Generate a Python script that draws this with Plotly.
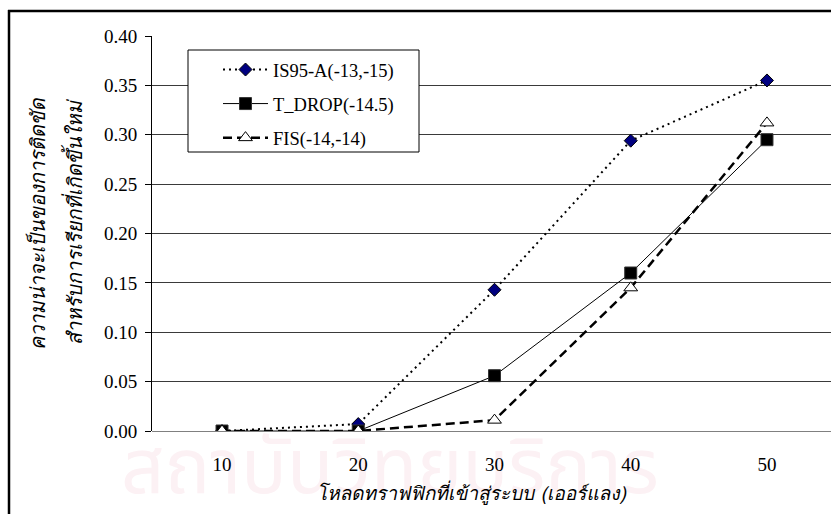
import plotly.graph_objects as go

# Offered traffic load (Erlang) and new-call blocking probabilities
load = [10, 20, 30, 40, 50]
is95a = [0.000, 0.007, 0.143, 0.294, 0.355]
t_drop = [0.000, 0.000, 0.056, 0.160, 0.295]
fis = [0.000, 0.000, 0.011, 0.145, 0.312]
y_ticks = [0.00, 0.05, 0.10, 0.15, 0.20, 0.25, 0.30, 0.35, 0.40]
y_tick_text = [f"{v:.2f}" for v in y_ticks]

SERIF = "Liberation Serif"
THAI = "Loma"
THAI_MARK = "Noto Sans Thai"

fig = go.Figure()

fig.add_trace(go.Scatter(
    x=load, y=is95a, name="IS95-A(-13,-15)", mode="lines+markers", legendgroup="a",
    line=dict(color="black", width=2, dash="2px,4px"),
    marker=dict(symbol="diamond", size=10, color="#000080",
                line=dict(color="black", width=1)),
))
fig.add_trace(go.Scatter(
    x=load, y=t_drop, name="T_DROP(-14.5)", mode="lines+markers", legendgroup="b",
    line=dict(color="black", width=1),
    marker=dict(symbol="square", size=12, color="black",
                line=dict(color="#333", width=1)),
))
fig.add_trace(go.Scatter(
    x=load, y=fis, name="FIS(-14,-14)", mode="lines+markers", legendgroup="c",
    line=dict(color="black", width=2.5, dash="9px,5px"),
    marker=dict(symbol="triangle-up", size=12, color="white",
                line=dict(color="black", width=1)),
))

L, T, B, H, W = 152, 36, 83, 514, 831
plot_h = H - T - B
plot_w = W - L


def px(x):
    return (x - L) / plot_w


def py(y):
    return (431 - y) / plot_h


fig.update_layout(
    width=W, height=H,
    margin=dict(l=L, r=0, t=T, b=B, pad=0),
    paper_bgcolor="white", plot_bgcolor="rgba(0,0,0,0)",
    font=dict(family=SERIF, size=19, color="black"),
    showlegend=True,
    legend=dict(
        x=px(218), y=py(51),
        xanchor="left", yanchor="top",
        bgcolor="rgba(0,0,0,0)", borderwidth=0,
        font=dict(family=SERIF, size=18.5, color="black"),
        itemwidth=45, tracegroupgap=7,
    ),
    xaxis=dict(
        range=[4.86, 54.7], tickvals=load, ticktext=[str(v) for v in load],
        showgrid=False, zeroline=False, showline=False, ticks="",
        tickfont=dict(family=SERIF, size=19), ticklabelstandoff=20,
    ),
    yaxis=dict(
        range=[0, 0.40], tickvals=y_ticks, ticktext=y_tick_text,
        showgrid=True, gridcolor="#3a3a3a", gridwidth=1,
        zeroline=True, zerolinecolor="#808080", zerolinewidth=1,
        showline=True, linecolor="black", linewidth=1,
        ticks="outside", ticklen=6, tickcolor="black",
        tickfont=dict(family=SERIF, size=19), ticklabelstandoff=4,
    ),
)

# Faint institutional watermark behind the chart
fig.add_shape(
    type="rect", xref="paper", yref="paper",
    x0=px(30), x1=px(750), y0=py(510), y1=py(438),
    line=dict(width=0), fillcolor="rgba(0,0,0,0)", layer="below",
    label=dict(text="สถาบันวิทยบริการ", textposition="middle center",
               font=dict(family=THAI_MARK, size=76, color="#fcf1f4")),
)

# Legend frame (white box over the gridlines)
fig.add_shape(
    type="rect", xref="paper", yref="paper",
    x0=px(188), x1=px(419), y0=py(152), y1=py(50),
    line=dict(color="black", width=1), fillcolor="white", layer="above",
)

# Outer chart frame: top and left edges
fig.add_shape(
    type="line", xref="paper", yref="paper",
    x0=px(8), x1=px(W), y0=py(11), y1=py(11),
    line=dict(color="black", width=2.5), layer="above",
)
fig.add_shape(
    type="line", xref="paper", yref="paper",
    x0=px(9), x1=px(9), y0=py(10), y1=py(H),
    line=dict(color="black", width=2.5), layer="above",
)

# Axis titles
fig.add_annotation(
    x=px(472), y=py(493), xref="paper", yref="paper",
    xanchor="center", yanchor="middle",
    text="<i>โหลดทราฟฟิกที่เข้าสู่ระบบ (เออร์แลง)</i>", showarrow=False,
    font=dict(family=THAI, size=19, color="black"),
)
fig.add_annotation(
    x=px(38), y=py(224), xref="paper", yref="paper",
    xanchor="center", yanchor="middle",
    text="<i>ความน่าจะเป็นของการติดขัด</i>",
    textangle=-90, showarrow=False,
    font=dict(family=THAI, size=20, color="black"),
)
fig.add_annotation(
    x=px(75), y=py(222), xref="paper", yref="paper",
    xanchor="center", yanchor="middle",
    text="<i>สำหรับการเรียกที่เกิดขึ้นใหม่</i>",
    textangle=-90, showarrow=False,
    font=dict(family=THAI, size=20, color="black"),
)

fig.write_html("out.html")
